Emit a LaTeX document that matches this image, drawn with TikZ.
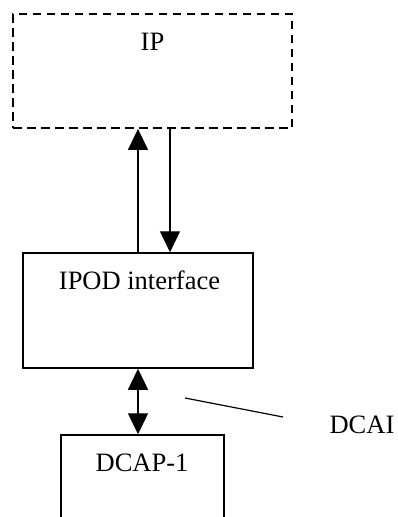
\documentclass[tikz,border=0pt]{standalone}
\usepackage{fontspec}
\setmainfont{Liberation Serif}
\usetikzlibrary{arrows.meta}
\begin{document}
\begin{tikzpicture}[x=1pt,y=-1pt,
  box/.style={draw, line width=1.5pt, rectangle, inner sep=0pt},
  lbl/.style={font=\fontsize{26.5}{30}\selectfont, inner sep=0pt, anchor=base},
  flow/.style={line width=1.4pt, -{Triangle[length=21pt,width=20pt]}},
  both/.style={line width=1.4pt, {Triangle[length=21pt,width=20pt]}-{Triangle[length=21pt,width=20pt]}}]
  \useasboundingbox (0,0) rectangle (397,517);
  \clip (0,0) rectangle (397,517);
  % upper block, dashed outline
  \node[box, line width=1.8pt, dash pattern=on 8.5pt off 5.5pt, minimum width=279pt, minimum height=114pt] (ip) at (152.5,71) {};
  \node[lbl] (iptext) at (152.5,50) {IP};
  % interface block
  \node[box, minimum width=230pt, minimum height=115pt] (ipod) at (138,310.5) {};
  \node[lbl] (ipodtext) at (139.5,289) {IPOD interface};
  % lower block, running past the bottom edge
  \node[box, minimum width=163pt, minimum height=120pt] (dcap) at (142.5,495) {};
  \node[lbl] (dcaptext) at (142,471) {DCAP-1};
  % connectors between the blocks
  \coordinate (dn) at (170,0);
  \draw[flow] (ipod.north) -- (ipod.north |- ip.south);
  \draw[flow] (dn |- ip.south) -- (dn |- ipod.north);
  \draw[both] (ipod.south) -- (ipod.south |- dcap.north);
  % callout for the interface name
  \node[lbl] (dcai) at (362,433) {DCAI};
  \coordinate (pt) at (185,398);
  \draw[line width=1.2pt] (pt) -- (283,417);
\end{tikzpicture}
\end{document}
